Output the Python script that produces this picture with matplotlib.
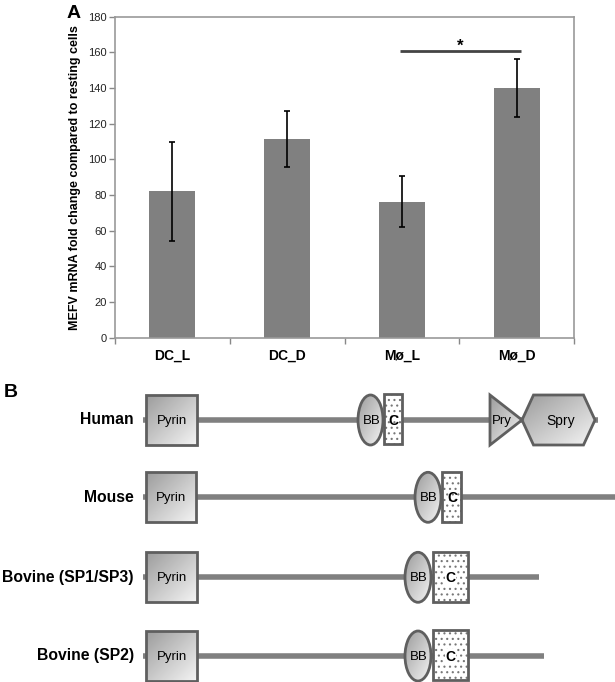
import numpy as np
import matplotlib
matplotlib.use("Agg")
import matplotlib.pyplot as plt
from matplotlib.patches import Rectangle, Ellipse, Polygon
from matplotlib.colors import LinearSegmentedColormap

plt.rcParams['font.family'] = ['Liberation Sans', 'DejaVu Sans']
plt.rcParams['hatch.linewidth'] = 0.8

# ---------------- Panel A data ----------------
categories = ['DC_L', 'DC_D', 'Mø_L', 'Mø_D']
fold_change = [82.0, 111.5, 76.3, 140.0]
fold_err = [27.6, 15.8, 14.4, 16.0]
y_ticks = [0, 20, 40, 60, 80, 100, 120, 140, 160, 180]
sig_pair = (2, 3)
sig_level = 161.0
sig_label = '*'

# ---------------- Panel B data (sequence positions, arbitrary units) ----------------
species = ['Human', 'Mouse', 'Bovine (SP1/SP3)', 'Bovine (SP2)']
seq_start = [143, 143, 143, 143]
seq_end = [598, 615, 539, 544]
pyrin_dom = [(146, 197), (146, 196), (146, 197), (146, 197)]
bb_dom = [(358, 383), (415, 441), (405, 431), (405, 431)]
c_dom = [(384, 402), (442, 461), (432.5, 467.5), (432.5, 467.5)]
pry_dom = [(490, 522), None, None, None]
spry_dom = [(522, 595), None, None, None]

W, H = 615, 682
fig = plt.figure(figsize=(W / 100, H / 100), dpi=100)

# ---------------- Panel A ----------------
axA = fig.add_axes([115 / W, 1 - 337.7 / H, 459.3 / W, 321 / H])
x = np.arange(len(categories)) + 0.5
axA.bar(x, fold_change, width=0.4, color='#808080', zorder=2)
axA.errorbar(x, fold_change, yerr=fold_err, fmt='none', ecolor='black',
             elinewidth=1.2, capsize=2.2, capthick=1.2, zorder=3)
axA.set_xlim(0, len(categories))
axA.set_ylim(0, 180)
axA.set_yticks(y_ticks)
axA.set_yticklabels([str(v) for v in y_ticks], fontsize=8, color='#222222')
axA.set_xticks(np.arange(len(categories) + 1))
axA.set_xticklabels([])
axA.set_xticks(x, minor=True)
axA.set_xticklabels(categories, minor=True, fontsize=10, fontweight='bold')
axA.tick_params(axis='x', which='minor', length=0, pad=8)
axA.tick_params(axis='x', which='major', length=4, width=1, color='#888888', direction='out')
axA.tick_params(axis='y', length=4, width=1, color='#888888', direction='out', pad=2)
for s in axA.spines.values():
    s.set_color('#999999')
    s.set_linewidth(1.2)
axA.set_ylabel('MEFV mRNA fold change compared to resting cells', fontsize=9,
               fontweight='bold', labelpad=5)
x0, x1 = x[sig_pair[0]] - 0.02, x[sig_pair[1]] + 0.04
axA.plot([x0, x1], [sig_level, sig_level], color='#444444', lw=2, solid_capstyle='butt')
axA.text((x0 + x1) / 2, sig_level + 2.2, sig_label, ha='center', va='center',
         fontsize=12, fontweight='bold')
fig.text(67 / W, 1 - 13 / H, 'A', fontsize=14, fontweight='bold', va='center', ha='left')

# ---------------- Panel B ----------------
axB = fig.add_axes([0, 0, 1, 322 / H])
axB.set_xlim(0, W)
axB.set_ylim(H, 360)
axB.axis('off')

grad_cmap = LinearSegmentedColormap.from_list('g', ['#9c9c9c', '#f4f4f4'])
gx, gy = np.meshgrid(np.linspace(0, 1, 64), np.linspace(0, 1, 64))
grad = (gx + gy) / 2.0
edge = '#5f5f5f'
elw = 2.0


def grad_patch(patch, extent):
    axB.add_patch(patch)
    im = axB.imshow(grad, cmap=grad_cmap, extent=extent, origin='upper',
                    aspect='auto', zorder=patch.get_zorder() - 0.1, interpolation='bilinear')
    im.set_clip_path(patch)
    patch.set_facecolor('none')


row_y = [420, 497.3, 577.3, 656]
dh = 50
for i, name in enumerate(species):
    yc = row_y[i]
    axB.plot([seq_start[i], seq_end[i]], [yc, yc], color='#808080', lw=4.0,
             solid_capstyle='butt', zorder=1)
    axB.text(seq_start[i] - 9, yc, name, ha='right', va='center', fontsize=11.3,
             fontweight='bold')
    # Pyrin
    a, b = pyrin_dom[i]
    r = Rectangle((a, yc - dh / 2), b - a, dh, edgecolor=edge, lw=elw, zorder=3)
    grad_patch(r, (a, b, yc + dh / 2, yc - dh / 2))
    axB.text((a + b) / 2, yc + 1, 'Pyrin', ha='center', va='center', fontsize=9.5, zorder=5)
    # C (stippled)
    a, b = c_dom[i]
    axB.add_patch(Rectangle((a, yc - dh / 2 - 0.7), b - a, dh, facecolor='white',
                            edgecolor='#777777', lw=0, hatch='...', zorder=3))
    axB.add_patch(Rectangle((a, yc - dh / 2 - 0.7), b - a, dh, facecolor='none',
                            edgecolor=edge, lw=elw, zorder=3.5))
    axB.text((a + b) / 2 + 0.5, yc + 1, 'C', ha='center', va='center', fontsize=10,
             fontweight='bold', zorder=5,
             bbox=dict(boxstyle='square,pad=0.05', fc='white', ec='none') if (b - a) > 25 else None)
    # BB ellipse
    a, b = bb_dom[i]
    e = Ellipse(((a + b) / 2, yc), b - a, dh, edgecolor=edge, lw=elw, zorder=4)
    grad_patch(e, (a, b, yc + dh / 2, yc - dh / 2))
    axB.text((a + b) / 2 + 1, yc + 1, 'BB', ha='center', va='center', fontsize=9.5, zorder=5)
    # Pry triangle
    if pry_dom[i] is not None:
        a, b = pry_dom[i]
        t = Polygon([(a, yc - dh / 2), (b, yc), (a, yc + dh / 2)], closed=True,
                    edgecolor=edge, lw=elw, zorder=3)
        grad_patch(t, (a, b, yc + dh / 2, yc - dh / 2))
        axB.text(a + 1.5, yc + 1, 'Pry', ha='left', va='center', fontsize=9.5, zorder=5)
    # Spry hexagon
    if spry_dom[i] is not None:
        a, b = spry_dom[i]
        ins = 11.5
        hpts = [(a, yc), (a + ins, yc - dh / 2), (b - ins, yc - dh / 2), (b, yc),
                (b - ins, yc + dh / 2), (a + ins, yc + dh / 2)]
        hx = Polygon(hpts, closed=True, edgecolor=edge, lw=elw, zorder=3)
        grad_patch(hx, (a, b, yc + dh / 2, yc - dh / 2))
        axB.text((a + b) / 2 + 2, yc + 1, 'Spry', ha='center', va='center', fontsize=10, zorder=5)

axB.text(10.6, 393, 'B', fontsize=14, fontweight='bold', ha='center', va='center')

fig.savefig('out.png', dpi=100)
